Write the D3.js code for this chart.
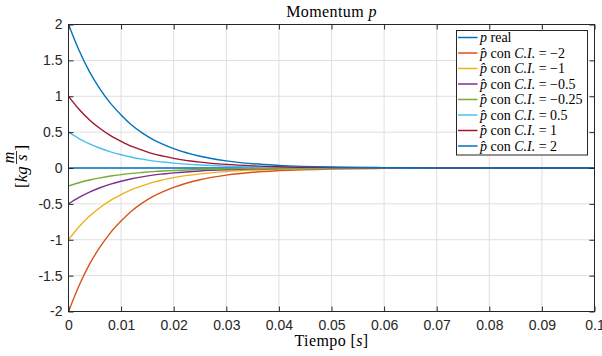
<!DOCTYPE html>
<html>
<head>
<meta charset="utf-8">
<script src="https://cdn.jsdelivr.net/npm/d3@7"></script>
<style>
  body { margin: 0; background: #fff; }
  svg { display: block; }
</style>
</head>
<body>
<div id="chart"></div>
<script>
// ------------------------------------------------------
// Data

const tiempo = [0, 0.002, 0.004, 0.006, 0.008, 0.01, 0.012, 0.014, 0.016, 0.018, 0.02,
	0.025, 0.03, 0.035, 0.04, 0.05, 0.06, 0.07, 0.08, 0.1]

const pReal = [0, 0, 0, 0, 0, 0, 0, 0, 0, 0, 0, 0, 0, 0, 0, 0, 0, 0, 0, 0]
const ciMenos2 = [-2, -1.64, -1.34, -1.10, -0.90, -0.74, -0.60, -0.49, -0.40, -0.33, -0.27,
	-0.164, -0.10, -0.06, -0.037, -0.013, -0.005, -0.002, -0.001, 0]
const ciMenos1 = [-1, -0.82, -0.67, -0.55, -0.45, -0.37, -0.30, -0.25, -0.20, -0.165, -0.135,
	-0.082, -0.05, -0.03, -0.018, -0.007, -0.0025, -0.001, 0, 0]
const ciMenos05 = [-0.5, -0.41, -0.335, -0.275, -0.225, -0.184, -0.15, -0.123, -0.10, -0.083, -0.068,
	-0.041, -0.025, -0.015, -0.009, -0.0034, -0.0012, 0, 0, 0]
const ciMenos025 = [-0.25, -0.205, -0.168, -0.137, -0.112, -0.092, -0.075, -0.062, -0.05, -0.041, -0.034,
	-0.02, -0.012, -0.008, -0.005, -0.0017, -0.0006, 0, 0, 0]
const ci05 = [0.5, 0.41, 0.335, 0.275, 0.225, 0.184, 0.15, 0.123, 0.10, 0.083, 0.068,
	0.041, 0.025, 0.015, 0.009, 0.0034, 0.0012, 0, 0, 0]
const ci1 = [1, 0.82, 0.67, 0.55, 0.45, 0.37, 0.30, 0.25, 0.20, 0.165, 0.135,
	0.082, 0.05, 0.03, 0.018, 0.007, 0.0025, 0.001, 0, 0]
const ci2 = [2, 1.64, 1.34, 1.10, 0.90, 0.74, 0.60, 0.49, 0.40, 0.33, 0.27,
	0.164, 0.10, 0.06, 0.037, 0.013, 0.005, 0.002, 0.001, 0]

const ciLabels = ['\u22122', '\u22121', '\u22120.5', '\u22120.25', '0.5', '1', '2']

const xTicks = [0, 0.01, 0.02, 0.03, 0.04, 0.05, 0.06, 0.07, 0.08, 0.09, 0.1]
const xTickLabels = ['0', '0.01', '0.02', '0.03', '0.04', '0.05', '0.06', '0.07', '0.08', '0.09', '0.1']
const yTicks = [-2, -1.5, -1, -0.5, 0, 0.5, 1, 1.5, 2]
const yTickLabels = ['-2', '-1.5', '-1', '-0.5', '0', '0.5', '1', '1.5', '2']

// MATLAB default colour order
const colors = ['#0072BD', '#D95319', '#EDB120', '#7E2F8E', '#77AC30', '#4DBEEE', '#A2142F', '#0072BD']

const series = [pReal, ciMenos2, ciMenos1, ciMenos05, ciMenos025, ci05, ci1, ci2]

// ------------------------------------------------------
// Size and scales

const width = 602
const height = 356
const mLeft = 68.5, mRight = 594.5, mTop = 24.5, mBottom = 311.5

const x = d3.scaleLinear().domain([0, 0.1]).range([mLeft, mRight])
const y = d3.scaleLinear().domain([-2, 2]).range([mBottom, mTop])

const axisColor = '#262626'
const serif = '"Liberation Serif", "Times New Roman", serif'
const sans = '"Liberation Sans", Arial, sans-serif'

const svg = d3.select('#chart')
	.append('svg')
	.attr('width', width)
	.attr('height', height)

// ------------------------------------------------------
// Grid

const grid = svg.append('g')
grid.selectAll('.gx')
	.data(xTicks)
	.enter()
	.append('line')
	.attr('x1', d => x(d)).attr('x2', d => x(d))
	.attr('y1', mTop).attr('y2', mBottom)
grid.selectAll('.gy')
	.data(yTicks)
	.enter()
	.append('line')
	.attr('x1', mLeft).attr('x2', mRight)
	.attr('y1', d => y(d)).attr('y2', d => y(d))
grid.selectAll('line')
	.attr('stroke', '#dfdfdf')
	.attr('stroke-width', 1)

// ------------------------------------------------------
// Lines

const line = d3.line()
	.x((d, i) => x(tiempo[i]))
	.y(d => y(d))
	.curve(d3.curveMonotoneX)

svg.append('g')
	.selectAll('path')
	.data(series)
	.enter()
	.append('path')
	.attr('d', line)
	.attr('fill', 'none')
	.attr('stroke', (d, i) => colors[i])
	.attr('stroke-width', 1.4)

// ------------------------------------------------------
// Axes (ticks inside, box on)

function styleAxis(g) {
	g.select('.domain').remove()
	g.selectAll('.tick line').attr('stroke', axisColor)
	g.selectAll('.tick text')
		.attr('fill', axisColor)
		.attr('font-family', sans)
		.attr('font-size', 14)
}

svg.append('g')
	.attr('transform', `translate(0,${mBottom})`)
	.call(d3.axisBottom(x).tickValues(xTicks).tickFormat((d, i) => xTickLabels[i]).tickSize(-5).tickPadding(9))
	.call(styleAxis)

svg.append('g')
	.attr('transform', `translate(0,${mTop})`)
	.call(d3.axisTop(x).tickValues(xTicks).tickFormat('').tickSize(-5))
	.call(styleAxis)

svg.append('g')
	.attr('transform', `translate(${mLeft},0)`)
	.call(d3.axisLeft(y).tickValues(yTicks).tickFormat((d, i) => yTickLabels[i]).tickSize(-5).tickPadding(6))
	.call(styleAxis)

svg.append('g')
	.attr('transform', `translate(${mRight},0)`)
	.call(d3.axisRight(y).tickValues(yTicks).tickFormat('').tickSize(-5))
	.call(styleAxis)

svg.append('rect')
	.attr('x', mLeft).attr('y', mTop)
	.attr('width', mRight - mLeft).attr('height', mBottom - mTop)
	.attr('fill', 'none')
	.attr('stroke', axisColor)
	.attr('stroke-width', 1)

// ------------------------------------------------------
// Title and axis labels

const title = svg.append('text')
	.attr('x', (mLeft + mRight) / 2)
	.attr('y', 17)
	.attr('text-anchor', 'middle')
	.attr('font-family', serif)
	.attr('font-size', 16)
	.attr('letter-spacing', 0.4)
	.attr('fill', '#000')
title.append('tspan').text('Momentum ')
title.append('tspan').attr('font-style', 'italic').text('p')

const xLabel = svg.append('text')
	.attr('x', (mLeft + mRight) / 2)
	.attr('y', 346)
	.attr('text-anchor', 'middle')
	.attr('font-family', serif)
	.attr('font-size', 16)
	.attr('letter-spacing', 0.4)
	.attr('fill', '#000')
xLabel.append('tspan').text('Tiempo [')
xLabel.append('tspan').attr('font-style', 'italic').text('s')
xLabel.append('tspan').text(']')

// y label: [kg m/s] with a fraction, rotated
const yl = svg.append('g')
	.attr('transform', `translate(27,${(mTop + mBottom) / 2}) rotate(-90)`)
	.attr('font-family', serif)
	.attr('font-size', 17)
	.attr('fill', '#000')
const ylt = yl.append('text').attr('x', -20).attr('y', 0)
ylt.append('tspan').text('[')
ylt.append('tspan').attr('font-style', 'italic').text('kg')
yl.append('text').attr('x', 10.5).attr('y', -13.5).attr('text-anchor', 'middle')
	.attr('font-style', 'italic').attr('font-size', 16).text('m')
yl.append('text').attr('x', 10.5).attr('y', 0).attr('text-anchor', 'middle')
	.attr('font-style', 'italic').attr('font-size', 16).text('s')
yl.append('line')
	.attr('x1', 4).attr('x2', 17)
	.attr('y1', -10.5).attr('y2', -10.5)
	.attr('stroke', '#000').attr('stroke-width', 0.8)
yl.append('text').attr('x', 17.5).attr('y', 0).text(']')

// ------------------------------------------------------
// Legend

const lgX = 456.5, lgY = 30.5, lgW = 131, lgH = 124.5
const rowH = 15.5

const legend = svg.append('g')
legend.append('rect')
	.attr('x', lgX).attr('y', lgY)
	.attr('width', lgW).attr('height', lgH)
	.attr('fill', '#fff')
	.attr('stroke', axisColor)
	.attr('stroke-width', 1)

const rows = legend.selectAll('.row')
	.data(series)
	.enter()
	.append('g')
	.attr('transform', (d, i) => `translate(0,${37.5 + i * rowH})`)

rows.append('line')
	.attr('x1', 458).attr('x2', 477.5)
	.attr('y1', 0).attr('y2', 0)
	.attr('stroke', (d, i) => colors[i])
	.attr('stroke-width', 1.5)

const rowText = rows.append('text')
	.attr('x', 480)
	.attr('y', 4.5)
	.attr('font-family', serif)
	.attr('font-size', 14)
	.attr('fill', '#000')

rowText.each(function (d, i) {
	const t = d3.select(this)
	if (i === 0) {
		t.append('tspan').attr('font-style', 'italic').text('p')
		t.append('tspan').text(' real')
	} else {
		t.append('tspan').attr('font-style', 'italic').text('p\u0302')
		t.append('tspan').text(' con ')
		t.append('tspan').attr('font-style', 'italic').text('C.I.')
		t.append('tspan').text(' = ' + ciLabels[i - 1])
	}
})
</script>
</body>
</html>
